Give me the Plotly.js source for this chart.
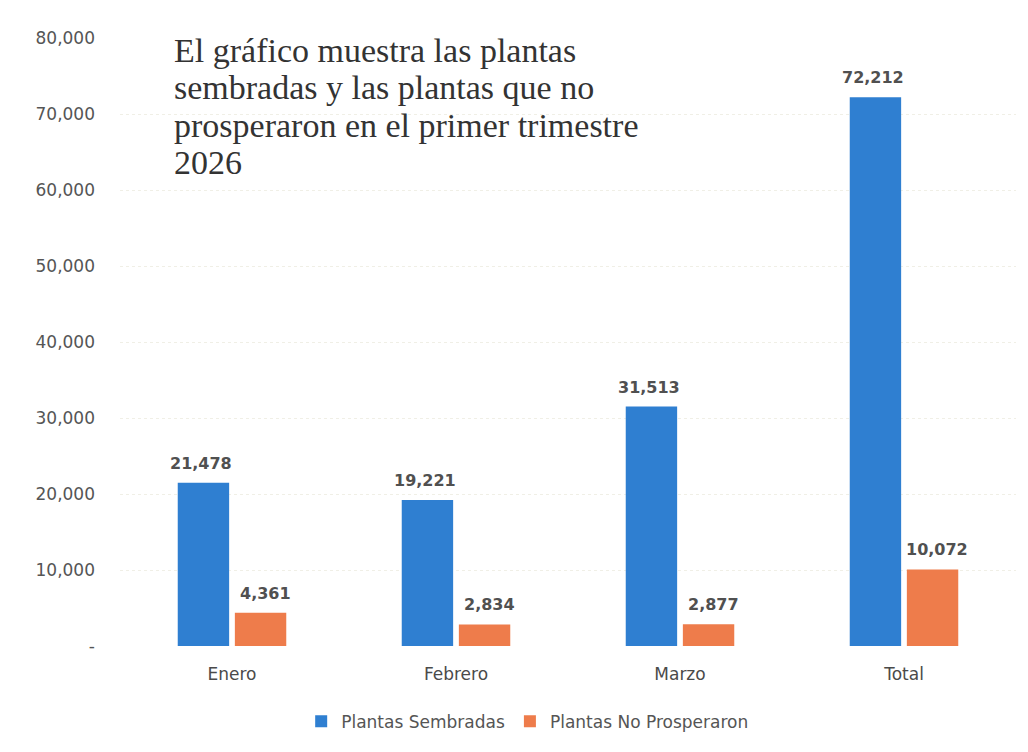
<!DOCTYPE html>
<html><head><meta charset="utf-8">
<script src="https://cdn.plot.ly/plotly-3.0.1.min.js"></script>
<style>html,body{margin:0;padding:0;background:#fff}</style>
</head><body>
<div id="chart" style="width:1028px;height:752px"></div>
<script>
const categories = ["Enero", "Febrero", "Marzo", "Total"];
const sembradas = [21478, 19221, 31513, 72212];
const noProsperaron = [4361, 2834, 2877, 10072];
const seriesNames = ["Plantas Sembradas", "Plantas No Prosperaron"];
const tickVals = [0, 10000, 20000, 30000, 40000, 50000, 60000, 70000, 80000];
const tickText = ["-", "10,000", "20,000", "30,000", "40,000", "50,000", "60,000", "70,000", "80,000"];
const titleLines = ["El gráfico muestra las plantas", "sembradas y las plantas que no", "prosperaron en el primer trimestre", "2026"];

const blue = "#2F7FD1", orange = "#EE7C4B", txt = "#4a4a4a";
const sans = "'DejaVu Sans', Verdana, sans-serif";
const fmt = v => v.toLocaleString("en-US");

const traces = [
  {type: "bar", name: seriesNames[0], x: categories, y: sembradas, marker: {color: blue}, hoverinfo: "none"},
  {type: "bar", name: seriesNames[1], x: categories, y: noProsperaron, marker: {color: orange}, hoverinfo: "none"}
];

const annotations = [];
[sembradas, noProsperaron].forEach((arr, si) => {
  arr.forEach((v, i) => annotations.push({
    xref: "x", yref: "y", x: categories[i], y: v, text: fmt(v), showarrow: false,
    xanchor: "center", yanchor: "bottom", xshift: si === 0 ? -31 : 33, yshift: 8,
    font: {family: sans, size: 16, color: "#505050", weight: "bold"}
  }));
});
titleLines.forEach((line, k) => annotations.push({
  xref: "paper", yref: "paper", x: 0.058, y: 1, xanchor: "left", yanchor: "middle", align: "left",
  yshift: -12 - k * 37.5,
  text: line, showarrow: false,
  font: {family: "'Liberation Serif', 'DejaVu Serif', serif", size: 34, color: "#333"}
}));

const layout = {
  width: 1028, height: 752,
  margin: {l: 120, r: 12, t: 38, b: 106},
  paper_bgcolor: "#fff", plot_bgcolor: "#fff",
  barmode: "group", bargap: 0.49, bargroupgap: 0.1,
  showlegend: true,
  legend: {orientation: "h", x: 0.455, xanchor: "center", y: -0.095, yanchor: "top",
    font: {family: sans, size: 17, color: "#555"}, itemwidth: 30},
  xaxis: {type: "category", showgrid: false, zeroline: false, showline: false, ticks: "",
    ticklabelstandoff: 16,
    tickfont: {family: sans, size: 17, color: txt}},
  yaxis: {range: [0, 80000], tickvals: tickVals, ticktext: tickText, showgrid: true,
    gridcolor: "#f0efe6", griddash: "dot", zeroline: false, showline: false, ticks: "",
    ticklabelstandoff: 24,
    tickfont: {family: sans, size: 17, color: "#555"}},
  annotations: annotations
};
Plotly.newPlot("chart", traces, layout, {displayModeBar: false, staticPlot: true});
</script>
</body></html>
